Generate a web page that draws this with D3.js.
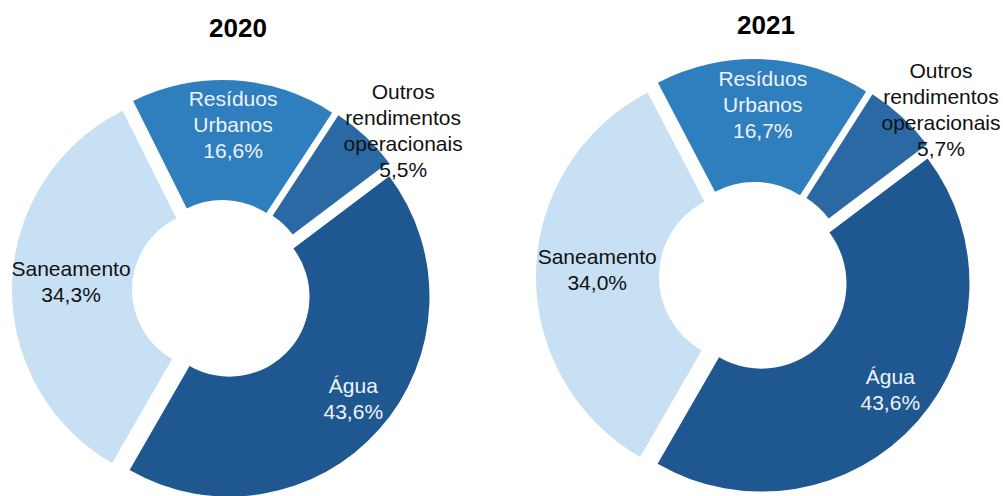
<!DOCTYPE html>
<meta charset="utf-8">
<style type="text/css">
body {
    margin: 0;
    background: #fff;
    font-family: 'Liberation Sans', Arial, sans-serif;
}

.title {
    font-size: 26px;
    font-weight: bold;
    text-anchor: middle;
}

.label {
    font-size: 21px;
    text-anchor: middle;
}
</style>

<body>
    <script src="https://d3js.org/d3.v7.min.js"></script>
    <script>
    // chart data
    var years = ["2020", "2021"]
    var categories = ["Água", "Saneamento", "Resíduos Urbanos", "Outros rendimentos operacionais"]
    var values2020 = [43.6, 34.3, 16.6, 5.5]
    var values2021 = [43.6, 34.0, 16.7, 5.7]
    var labelLines = [["Água"], ["Saneamento"], ["Resíduos", "Urbanos"], ["Outros", "rendimentos", "operacionais"]]

    var colors = ["#1f5891", "#c7e0f4", "#2f7fbf", "#2b69a5"]
    var textColors = ["#eef3f9", "#111", "#eef3f9", "#111"]
    // label radius as share of the outer reach, and a small angle nudge in degrees
    var labelRadius = [0.81, 0.72, 0.79, 1.15]
    var labelNudge = [-2, 1.5, 0.5, 5.5]

    var charts = [
        { year: years[0], values: values2020, cx: 222, cy: 290, outer: 200, inner: 80, explode: 10, titleX: 238, titleY: 37 },
        { year: years[1], values: values2021, cx: 754, cy: 277, outer: 208, inner: 85, explode: 10, titleX: 766, titleY: 34 }
    ]

    var width = 1003
    var height = 496

    var svg = d3.select('body').append('svg')
        .attr('width', width)
        .attr('height', height)

    var fmt = d => d3.format(".1f")(d).replace(".", ",") + "%"

    var pie = d3.pie()
        .sort(null)
        .value(d => d.value)
        .startAngle(53 * Math.PI / 180)
        .endAngle(53 * Math.PI / 180 + 2 * Math.PI)

    charts.forEach(function(c) {
        var data = categories.map((name, i) => ({ name: name, value: c.values[i], i: i }))

        var arc = d3.arc()
            .innerRadius(c.inner)
            .outerRadius(c.outer)

        var g = svg.append('g')
            .attr('transform', 'translate(' + c.cx + ',' + c.cy + ')')

        var arcs = pie(data)

        g.selectAll('.slice')
            .data(arcs)
            .enter()
            .append('path')
            .attr('class', 'slice')
            .attr('fill', d => colors[d.data.i])
            .attr('transform', function(d) {
                var mid = (d.startAngle + d.endAngle) / 2
                return 'translate(' + (Math.sin(mid) * c.explode) + ',' + (-Math.cos(mid) * c.explode) + ')'
            })
            .attr('d', arc)

        var reach = c.outer + c.explode

        var labels = g.selectAll('.label')
            .data(arcs)
            .enter()
            .append('text')
            .attr('class', 'label')
            .attr('fill', d => textColors[d.data.i])
            .each(function(d) {
                var mid = (d.startAngle + d.endAngle) / 2 + labelNudge[d.data.i] * Math.PI / 180
                var r = reach * labelRadius[d.data.i]
                var x = Math.sin(mid) * r
                var y = -Math.cos(mid) * r
                var lines = labelLines[d.data.i].concat([fmt(d.data.value)])
                var n = lines.length
                d3.select(this).selectAll('tspan')
                    .data(lines)
                    .enter()
                    .append('tspan')
                    .attr('x', x)
                    .attr('y', (t, k) => y + (k - (n - 1) / 2) * 26)
                    .attr('dy', '0.35em')
                    .text(t => t)
            })

        svg.append('text')
            .attr('class', 'title')
            .attr('x', c.titleX)
            .attr('y', c.titleY)
            .text(c.year)
    })
    </script>
</body>
